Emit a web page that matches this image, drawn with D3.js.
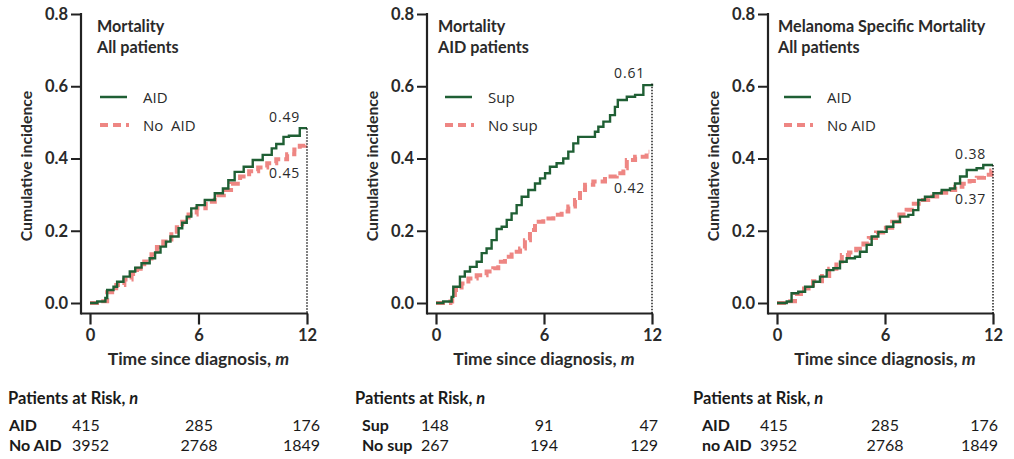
<!DOCTYPE html>
<html><head><meta charset="utf-8">
<script src="https://cdn.jsdelivr.net/npm/d3@7"></script>
<style>
body{margin:0;background:#fff;}
svg{display:block;}
</style></head>
<body>
<svg id="chart" width="1014" height="459"></svg>
<script>
// ---------- DATA ----------
const timeTicks = [0, 6, 12];
const yTicks = [0, 0.2, 0.4, 0.6, 0.8];

const panelTitles = [
  ["Mortality", "All patients"],
  ["Mortality", "AID patients"],
  ["Melanoma Specific Mortality", "All patients"]
];
const legendLabels = [["AID", "No  AID"], ["Sup", "No sup"], ["AID", "No AID"]];
const endLabels = [["0.49", "0.45"], ["0.61", "0.42"], ["0.38", "0.37"]];

// [time (months), cumulative incidence]
const allAID = [[0,0],[0.4,0.004],[0.85,0.014],[0.95,0.036],[1.3,0.045],[1.5,0.059],[1.85,0.073],[2.2,0.087],[2.5,0.098],[2.85,0.11],[3.3,0.124],[3.6,0.14],[3.9,0.156],[4.2,0.17],[4.45,0.184],[4.9,0.207],[5.1,0.222],[5.35,0.239],[5.6,0.262],[5.9,0.271],[6.35,0.285],[6.9,0.304],[7.35,0.317],[7.65,0.34],[8.0,0.363],[8.5,0.377],[9.0,0.396],[9.55,0.41],[10.05,0.428],[10.3,0.44],[10.7,0.46],[11.0,0.463],[11.6,0.484],[12,0.484]];
const allNoAID = [[0,0],[0.5,0.005],[0.95,0.03],[1.45,0.05],[1.9,0.065],[2.3,0.08],[2.6,0.095],[3.0,0.115],[3.4,0.135],[3.7,0.155],[4.05,0.17],[4.5,0.19],[4.8,0.21],[5.1,0.225],[5.45,0.245],[5.9,0.262],[6.4,0.28],[6.9,0.298],[7.4,0.313],[7.8,0.33],[8.3,0.35],[8.8,0.365],[9.3,0.375],[9.8,0.387],[10.3,0.398],[10.9,0.412],[11.3,0.425],[11.6,0.435],[11.9,0.446],[11.95,0.446]];
const supAID = [[0,0],[0.4,0.004],[0.87,0.017],[0.96,0.045],[1.33,0.073],[1.6,0.087],[1.89,0.1],[2.26,0.114],[2.54,0.138],[2.81,0.151],[3.09,0.174],[3.37,0.205],[3.65,0.211],[3.93,0.23],[4.2,0.248],[4.48,0.271],[4.76,0.294],[5.13,0.313],[5.5,0.331],[5.78,0.345],[6.06,0.359],[6.33,0.377],[6.7,0.387],[7.07,0.4],[7.35,0.419],[7.63,0.442],[7.9,0.46],[8.83,0.474],[9.02,0.488],[9.3,0.502],[9.67,0.52],[9.94,0.543],[10.1,0.562],[10.6,0.571],[11.06,0.576],[11.52,0.603],[12,0.607]];
const noSupAID = [[0,0],[0.8,0.004],[0.9,0.022],[1.05,0.036],[1.42,0.054],[1.8,0.068],[2.26,0.077],[2.81,0.087],[3.18,0.096],[3.46,0.114],[3.83,0.128],[4.2,0.142],[4.67,0.151],[4.94,0.174],[5.22,0.202],[5.5,0.225],[5.96,0.234],[6.52,0.244],[6.98,0.253],[7.35,0.267],[7.72,0.285],[8.0,0.313],[8.28,0.327],[8.74,0.336],[9.39,0.35],[10.04,0.359],[10.41,0.373],[10.6,0.396],[11.06,0.405],[11.7,0.419],[11.85,0.419]];
const melAID = [[0,0],[0.54,0.004],[0.81,0.027],[1.18,0.031],[1.56,0.045],[2.02,0.059],[2.39,0.073],[2.76,0.091],[3.13,0.096],[3.5,0.114],[3.87,0.124],[4.33,0.128],[4.61,0.142],[4.98,0.161],[5.26,0.184],[5.63,0.197],[6.09,0.211],[6.46,0.225],[6.83,0.239],[7.3,0.244],[7.57,0.257],[7.85,0.285],[8.22,0.294],[8.69,0.304],[9.15,0.313],[9.61,0.317],[9.89,0.331],[10.17,0.35],[10.54,0.368],[11.09,0.373],[11.46,0.382],[12,0.382]];
const melNoAID = [[0,0],[0.5,0.005],[1.0,0.025],[1.5,0.04],[2.0,0.06],[2.5,0.075],[2.9,0.095],[3.3,0.115],[3.6,0.133],[4.0,0.14],[4.4,0.15],[4.8,0.165],[5.1,0.18],[5.5,0.195],[5.9,0.208],[6.4,0.225],[6.8,0.245],[7.2,0.258],[7.6,0.275],[8.0,0.285],[8.4,0.295],[8.9,0.305],[9.4,0.313],[9.9,0.322],[10.3,0.33],[10.7,0.338],[11.1,0.347],[11.5,0.355],[11.9,0.367],[11.95,0.367]];

const riskRowLabels = [["AID", "No AID"], ["Sup", "No sup"], ["AID", "no AID"]];
const riskCounts = [
  [[415, 285, 176], [3952, 2768, 1849]],
  [[148, 91, 47], [267, 194, 129]],
  [[415, 285, 176], [3952, 2768, 1849]]
];

const seriesByPanel = [[allAID, allNoAID], [supAID, noSupAID], [melAID, melNoAID]];

// ---------- LAYOUT ----------
const layout = [
  {axisX: 81, x0: 90, x12: 307, titleX: 97, legX: 100, tableX: 8, rowLabX: 9, col1: 72, col2: 199, col3: 320, lowLabY: 178},
  {axisX: 427, x0: 436, x12: 652, titleX: 438, legX: 445, tableX: 355, rowLabX: 362, col1: 421, col2: 544, col3: 658, lowLabY: 193},
  {axisX: 768, x0: 777, x12: 993, titleX: 778, legX: 784, tableX: 693, rowLabX: 702, col1: 760, col2: 885, col3: 998, lowLabY: 204}
];
const yTop = 14, yZero = 303, axisBottom = 313.5;
const GREEN = "#1f5f34", PINK = "#ee8683";
const boldFont = "Lato, 'Open Sans', sans-serif";
const regFont = "'Open Sans', 'DejaVu Sans', sans-serif";

const svg = d3.select("#chart");
const y = d3.scaleLinear().domain([0, 0.8]).range([yZero, yTop]);

layout.forEach((L, i) => {
  const g = svg.append("g");
  const x = d3.scaleLinear().domain([0, 12]).range([L.x0, L.x12]);

  // y axis
  const yAx = g.append("g").attr("transform", `translate(${L.axisX},0)`)
    .call(d3.axisLeft(y).tickValues(yTicks).tickFormat(d3.format(".1f")).tickSize(10).tickPadding(3));
  yAx.select(".domain").remove();
  yAx.selectAll(".tick line").attr("stroke", "#222").attr("stroke-width", 2);
  yAx.selectAll(".tick text").attr("font-family", boldFont).attr("font-weight", "bold")
    .attr("font-size", 16.5).attr("fill", "#2a2a2a");
  g.append("line").attr("x1", L.axisX).attr("x2", L.axisX).attr("y1", yTop - 1).attr("y2", axisBottom + 1)
    .attr("stroke", "#222").attr("stroke-width", 2.2);
  // bottom frame line
  g.append("line").attr("x1", L.axisX).attr("x2", L.x12 + 1).attr("y1", axisBottom).attr("y2", axisBottom)
    .attr("stroke", "#222").attr("stroke-width", 2.2);

  // x axis
  const xAx = g.append("g").attr("transform", `translate(0,${axisBottom})`)
    .call(d3.axisBottom(x).tickValues(timeTicks).tickFormat(d3.format("d")).tickSize(11).tickPadding(5));
  xAx.select(".domain").remove();
  xAx.selectAll(".tick line").attr("stroke", "#222").attr("stroke-width", 2.2);
  xAx.selectAll(".tick text").attr("font-family", boldFont).attr("font-weight", "bold")
    .attr("font-size", 16.5).attr("fill", "#2a2a2a");

  // axis titles
  g.append("text").attr("transform", `translate(${L.axisX - 49},166) rotate(-90)`)
    .attr("text-anchor", "middle").attr("font-family", boldFont).attr("font-weight", "bold")
    .attr("font-size", 15.8).attr("fill", "#2a2a2a").text("Cumulative incidence");
  const xl = g.append("text").attr("x", (L.x0 + L.x12) / 2).attr("y", 365).attr("text-anchor", "middle")
    .attr("font-family", boldFont).attr("font-weight", "bold").attr("font-size", 17.5).attr("fill", "#2a2a2a");
  xl.append("tspan").text("Time since diagnosis, ");
  xl.append("tspan").attr("font-style", "italic").text("m");

  // panel title
  panelTitles[i].forEach((t, k) => {
    g.append("text").attr("x", L.titleX).attr("y", 32 + k * 21).attr("font-family", boldFont)
      .attr("font-weight", "bold").attr("font-size", 16.2).attr("fill", "#2a2a2a").text(t);
  });

  // legend
  const legY = [97, 125];
  g.append("line").attr("x1", L.legX).attr("x2", L.legX + 27).attr("y1", legY[0]).attr("y2", legY[0])
    .attr("stroke", GREEN).attr("stroke-width", 2.5);
  g.append("line").attr("x1", L.legX).attr("x2", L.legX + 29).attr("y1", legY[1]).attr("y2", legY[1])
    .attr("stroke", PINK).attr("stroke-width", 4).attr("stroke-dasharray", "8,5");
  legendLabels[i].forEach((t, k) => {
    g.append("text").attr("x", L.legX + 43).attr("y", legY[k] + 6).attr("font-family", regFont)
      .attr("font-size", 15).attr("fill", "#2a2a2a").attr("xml:space", "preserve").style("white-space", "pre").text(t);
  });

  // curves
  const line = d3.line().x(d => x(d[0])).y(d => y(d[1])).curve(d3.curveStepAfter);
  const [s1, s2] = seriesByPanel[i];
  g.append("path").datum(s2).attr("d", line).attr("fill", "none").attr("stroke", PINK)
    .attr("stroke-width", 4).attr("stroke-dasharray", "9,4");
  g.append("path").datum(s1).attr("d", line).attr("fill", "none").attr("stroke", GREEN)
    .attr("stroke-width", 2.4);

  // dotted end line
  const endV = s1[s1.length - 1][1];
  g.append("line").attr("x1", x(12)).attr("x2", x(12)).attr("y1", y(endV)).attr("y2", axisBottom)
    .attr("stroke", "#111").attr("stroke-width", 1.4).attr("stroke-dasharray", "1.5,1.5");

  // end labels
  g.append("text").attr("x", x(12) - 7).attr("y", y(endV) - 6).attr("text-anchor", "end")
    .attr("font-family", regFont).attr("font-size", 14).attr("letter-spacing", 0.8).attr("fill", "#2a2a2a")
    .text(endLabels[i][0]);
  g.append("text").attr("x", x(12) - 7).attr("y", L.lowLabY).attr("text-anchor", "end")
    .attr("font-family", regFont).attr("font-size", 14).attr("letter-spacing", 0.8).attr("fill", "#2a2a2a")
    .text(endLabels[i][1]);

  // risk table
  const tt = g.append("text").attr("x", L.tableX).attr("y", 404).attr("font-family", boldFont)
    .attr("font-size", 16.5).attr("font-weight", "bold").attr("fill", "#1a1a1a");
  tt.append("tspan").text("Patients at Risk, ");
  tt.append("tspan").attr("font-style", "italic").text("n");
  const rowY = [431, 451];
  riskRowLabels[i].forEach((lab, r) => {
    g.append("text").attr("x", L.rowLabX).attr("y", rowY[r]).attr("font-family", boldFont)
      .attr("font-weight", "bold").attr("font-size", 16).attr("fill", "#1a1a1a").text(lab);
    const cols = riskCounts[i][r];
    const xs = [L.col1, L.col2, L.col3], anchors = ["start", "middle", "end"];
    cols.forEach((v, c) => {
      g.append("text").attr("x", xs[c]).attr("y", rowY[r]).attr("text-anchor", anchors[c])
        .attr("font-family", boldFont).attr("font-size", 16).attr("fill", "#1a1a1a").text(v);
    });
  });
});
</script>
</body></html>
